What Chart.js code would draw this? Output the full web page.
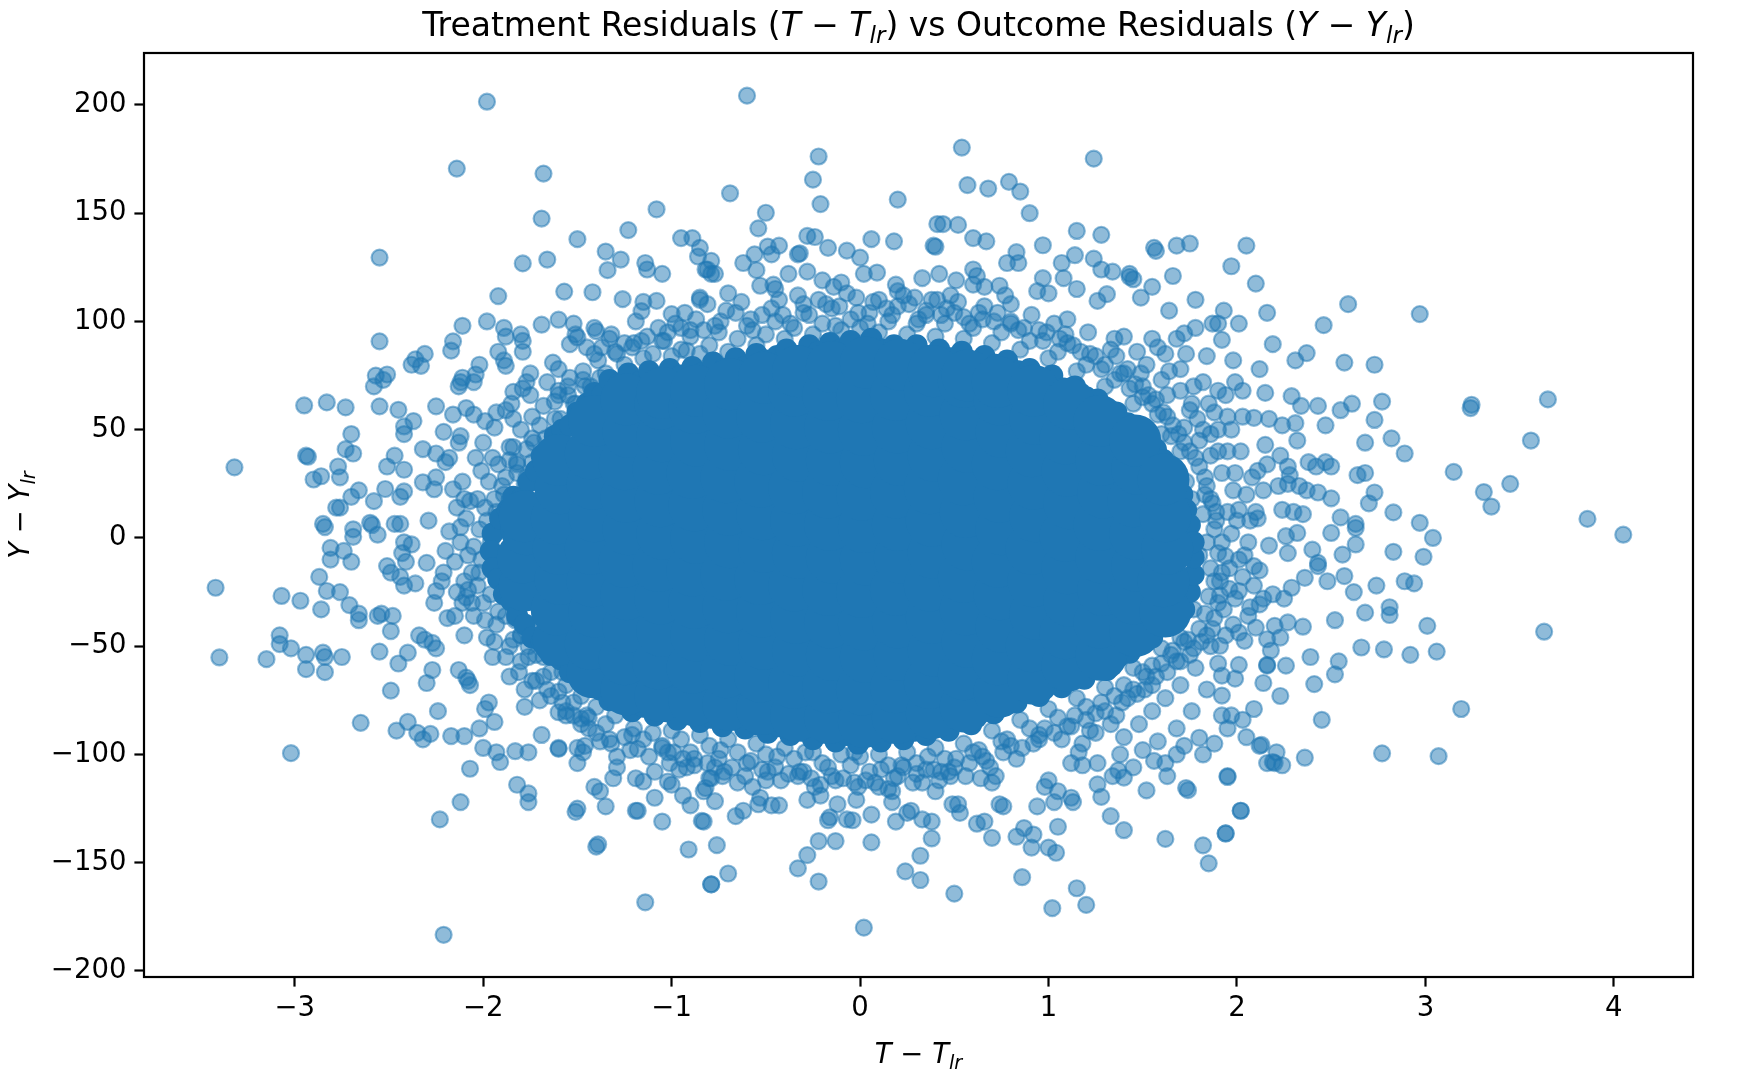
<!DOCTYPE html>
<html>
<head>
<meta charset="utf-8">
<script src="https://cdn.jsdelivr.net/npm/chart.js@4.4.1/dist/chart.umd.min.js"></script>
<style>
  html, body { margin: 0; padding: 0; background: #fff; }
  canvas { display: block; }
</style>
</head>
<body>
<canvas id="residuals" width="1754" height="1076" style="width:1754px;height:1076px"></canvas>
<script>
// axis ticks and limits
const xTickValues = [-3, -2, -1, 0, 1, 2, 3, 4];
const yTickValues = [-200, -150, -100, -50, 0, 50, 100, 150, 200];
const xLimits = [-3.80, 4.42];
const yLimits = [-202.8, 224];

// individually visible points around the cloud
const outlierPoints = [
  // upper left
  [-1.98,201.5],[-2.14,170.6],[-1.68,168.3],[-1.69,147.5],[-1.08,151.8],[-1.23,142.2],[-1.50,138],[-0.95,138.5],[-0.89,138.5],
  [-2.55,129.5],[-1.79,126.8],[-1.66,128.6],[-1.35,132.3],[-1.27,128.6],[-1.34,123.7],[-1.14,127],[-1.13,124],[-1.05,122],
  [-0.86,130],[-0.82,124],[-0.79,122],[-1.92,111.7],[-1.57,113.8],[-1.42,113.5],[-1.26,110.3],[-1.15,109],[-1.08,109.5],
  [-1.00,103.4],[-0.85,110],[-0.90,96],[-2.11,98],[-1.98,100],[-1.89,97],[-1.88,93],[-1.80,94],[-1.69,98.5],[-1.60,100.8],
  [-1.52,99],[-1.51,94],[-1.41,97],[-1.40,95.5],[-1.32,94],[-1.19,100],[-1.16,104.8],[-1.07,97],[-2.55,90.8],[-2.16,90.8],
  [-2.17,86.5],[-2.31,85],[-2.36,82.5],[-2.38,80],[-2.33,79.5],[-1.92,86],[-1.89,82],[-1.88,79.5],[-1.79,91],[-1.79,86],
  [-1.63,81],[-1.60,78],[-1.54,89.5],[-1.50,92.6],[-1.45,88],[-1.37,88],[-1.29,85],[-1.21,88],[-1.16,91],[-1.04,91],[-0.92,86.5],
  [-2.57,75],[-2.58,70],[-2.51,75.5],[-2.53,73],[-2.12,72],[-2.13,70],[-2.11,74],[-2.04,75.5],[-2.02,80],[-2.05,72],
  [-1.77,72],[-1.75,76],[-1.79,69],[-1.84,67.5],[-1.66,72],[-1.60,68],[-2.95,61.2],[-2.83,62.6],[-2.73,60.3],[-2.55,60.8],
  [-2.45,59.2],[-2.25,60.8],[-2.37,54],[-2.42,51.5],[-2.42,48],[-2.70,48],[-2.73,41],[-2.69,39],[-2.94,38],[-2.93,37.5],
  [-2.77,33],[-2.76,28],[-2.90,27],[-2.86,28.5],[-3.32,32.6],[-2.21,49],[-2.13,44],[-2.12,47],[-2.16,57],[-2.09,60],
  [-2.05,57],[-1.99,54],[-1.94,51],[-1.88,59],[-1.84,55],[-2.47,38],[-2.51,33],[-2.42,31.5],[-2.32,41],[-2.25,39],
  [-2.20,35],[-2.18,37],[-2.32,25.7],[-2.25,28],[-2.26,22.5],[-2.16,22.5],[-2.11,26],[-2.04,37],[-2.01,31],[-1.95,37],
  [-1.84,42],[-1.86,36],[-1.74,46],[-2.66,22],[-2.70,19],[-2.78,14],[-2.76,14],[-2.58,17],[-2.52,22.6],[-2.42,21.5],
  [-2.44,19],[-2.10,18],[-2.03,18],[-2.85,6.5],[-2.69,4],[-2.60,7],[-2.47,6.5],[-2.44,6.5],[-2.29,8],
  // lower left
  [-3.42,-23],[-3.40,-55.2],[-3.07,-26.8],[-2.97,-29],[-2.86,-33],[-2.84,5],[-2.69,0.5],[-2.81,-4.6],[-2.81,-10],[-2.74,-6],
  [-2.70,-11],[-2.87,-18],[-2.83,-24.5],[-2.76,-25],[-2.71,-31],[-2.66,-35],[-2.66,-38],[-2.59,6],[-2.56,1.5],[-2.42,-2],
  [-2.38,-3],[-2.43,-7],[-2.41,-11],[-2.51,-13],[-2.49,-16],[-2.44,-18],[-2.42,-22],[-2.36,-21],[-2.30,-11.5],[-2.56,-36],
  [-2.54,-35],[-2.48,-36],[-2.49,-43],[-2.34,-45],[-2.31,-47],[-2.27,-48.5],[-2.25,-51],[-2.26,-30],[-2.25,-24.5],[-2.21,-16],
  [-2.14,-25],[-2.09,-27.5],[-2.11,-30],[-2.19,-37],[-2.15,-36],[-3.08,-45],[-3.08,-49],[-3.02,-51],[-3.15,-56],[-2.94,-54],
  [-2.94,-60.6],[-2.85,-53],[-2.84,-55],[-2.84,-62],[-2.75,-55],[-2.55,-52.5],[-2.45,-58],[-2.40,-53],[-2.49,-70.5],[-2.65,-85.4],
  [-3.02,-99.4],[-2.46,-89],[-2.40,-85],[-2.35,-90],[-2.32,-93],[-2.28,-90.5],[-2.30,-67],[-2.27,-61],[-2.24,-80],[-2.17,-91.5],
  [-2.10,-91.5],[-2.13,-61],[-2.09,-64.5],[-2.07,-68],[-2.08,-66],[-2.02,-88],[-2.00,-97],[-1.94,-85],[-1.97,-76],[-1.99,-79],
  [-2.07,-106.6],[-2.12,-122],[-2.23,-130],[-2.21,-183.3],[-1.93,-99],[-1.91,-103.5],[-1.83,-98.5],[-1.76,-99],[-1.82,-114],
  [-1.76,-118],[-1.76,-122],[-1.60,-97.4],[-1.50,-125],[-1.51,-126.5],[-1.40,-142.6],[-1.39,-141.5],[-1.50,-104],[-1.47,-99],
  [-1.41,-115],[-1.38,-117],[-1.35,-124],[-1.29,-101],[-1.29,-106],[-1.31,-111],[-1.19,-126],[-1.18,-126],[-1.05,-131],
  [-1.09,-120],[-1.14,-168.3],[-0.91,-143.9],[-0.84,-130.7],[-0.79,-160],[-1.19,-111],[-1.15,-112.5],[-1.09,-108],[-1.02,-112.5],
  [-1.00,-114],[-0.94,-119],[-0.90,-123.5],[-0.83,-117],[-0.79,-111],[-1.69,-91],[-1.60,-97],[-1.78,-78],[-1.70,-75],[-1.78,-70],
  [-1.60,-80.5],[-1.56,-82],[-1.48,-83.5],[-1.45,-82],[-1.50,-97],[-1.46,-96],[-1.38,-94],[-1.33,-93],[-1.18,-97.4],[-1.21,-91],
  [-1.05,-96],[-0.99,-99],[-0.94,-102],[-0.88,-105],
  // upper middle
  [-0.60,204.3],[0.54,180.3],[1.24,175.2],[-0.22,176.2],[-0.25,165.5],[-0.21,154.2],[-0.69,159.2],[-0.50,150.2],[-0.54,143],
  [0.20,156.3],[0.57,163],[0.68,161.4],[0.79,164.5],[0.85,160],[0.90,150],[0.41,145],[0.44,145],[0.52,144.6],[0.39,135],
  [0.40,134.5],[0.60,138.5],[0.67,137],[1.15,141.8],[1.28,140],[0.97,135.2],[1.56,134],[1.57,132.6],[1.68,135],[1.75,136],
  [2.05,135],[1.97,125.5],[2.10,117.5],[1.66,121],[1.55,116],[1.49,111],[1.43,120.6],[1.78,110],[1.64,105],[1.93,105],
  [1.87,99],[2.01,99],[2.16,104],[1.78,97],[1.72,94.5],[1.92,91.5],[2.19,89.5],[1.98,82],[1.73,85],[2.12,78],[1.07,127],
  [1.14,130.6],[1.24,129],[1.28,124],[1.34,123],[1.43,122],[1.45,119.5],[0.83,132],[0.78,127],[0.84,127],[0.60,124],
  [0.62,121],[0.33,120],[0.42,122],[0.06,138],[0.18,137],[-0.33,131],[-0.32,131.5],[-0.28,139.5],[-0.24,139],[-0.49,134.6],
  [-0.43,135],[-0.47,131],[-0.56,131],[-0.62,127],[-0.55,123.7],[-0.17,134],[-0.07,132.7],[0.00,129.5],[0.02,122],[0.09,122.6],
  [0.19,117],[-0.38,122],[-0.46,117],[-0.53,116.5],[0.97,120],[1.08,120],[1.15,115],[0.94,114],[1.00,113],[1.26,109.5],
  [1.31,112.6],[0.29,111],[0.41,110],[0.51,119],[0.60,117],[0.66,116],[0.74,116.5],[-0.14,116],[-0.20,119],[-0.28,123],
  [-0.85,134],[-0.79,128],[-0.81,124],[-0.77,122],[-0.85,111],
  // lower middle
  [0.02,-180],[1.02,-171],[1.20,-169.5],[1.15,-161.8],[0.50,-164.3],[0.86,-156.7],[0.24,-154],[0.32,-158],[-0.22,-158.7],
  [-0.33,-152.6],[-0.28,-146.5],[-0.79,-160],[-0.70,-155],[-0.76,-141.9],[-0.22,-140],[-0.13,-140],[0.06,-140.6],[0.32,-146.8],
  [0.38,-138.8],[0.70,-138.5],[0.83,-138],[0.91,-143],[0.92,-137],[1.00,-143],[1.04,-145.4],[1.05,-133.4],[1.40,-135],
  [1.33,-128.5],[1.62,-139],[1.82,-142],[1.85,-150.3],[1.94,-136.5],[2.02,-126],[1.95,-110.4],[1.73,-115.5],[1.74,-116.5],
  [1.52,-116.6],[2.13,-95.6],[2.19,-103.5],[1.80,-92.3],[1.28,-119.6],[1.26,-113.8],[1.40,-110.7],[1.37,-107.4],[1.12,-120],
  [1.13,-122],[1.03,-122],[0.98,-115],[1.00,-112],[1.05,-117],[1.18,-105],[1.12,-104],[1.16,-99],[1.26,-104],[1.34,-110],
  [1.56,-103],[1.63,-110],[1.68,-100],[0.94,-124],[0.87,-134],[0.62,-132],[0.66,-131],[0.52,-123],[0.53,-127],[0.74,-123],
  [0.76,-124],[0.38,-131],[0.33,-130],[0.27,-126],[0.19,-131],[0.17,-122],[0.25,-127],[0.06,-127.8],[-0.03,-113],[-0.02,-121],
  [-0.04,-130.4],[-0.17,-130.4],[-0.16,-129],[-0.07,-130],[-0.12,-123],[-0.28,-121],[-0.21,-119],[-0.43,-123.5],[-0.47,-123.5],
  [-0.53,-120],[-0.54,-123],[-0.62,-126],[-0.66,-128.5],[-0.83,-131],[-0.77,-121.6],[-0.82,-115.5],[0.10,-115],[0.17,-117],
  [0.22,-105],[0.43,-108],[0.48,-110],[0.49,-123],[0.33,-113],[0.40,-117],[0.64,-111],[0.70,-113],[0.72,-110],[-0.65,-113],
  [-0.57,-115],[-0.49,-108],[-0.73,-110],[-0.77,-106],[-0.32,-108],[-0.26,-111],
  // right
  [1.90,99],[2.59,108],[2.97,103.4],[2.46,98.3],[2.31,82],[2.37,85.4],[2.57,81],[2.73,80],[1.99,72],[2.03,68],[1.90,68],
  [2.15,67],[2.29,65.5],[2.34,61],[2.43,61],[2.55,59],[2.61,62],[2.77,63],[3.24,60],[3.245,61.5],[3.65,64],[2.73,54.5],
  [2.47,52],[2.31,53],[2.32,45],[2.24,52],[2.17,55],[2.09,55.5],[2.03,56],[2.15,43],[2.68,44],[2.82,46],[2.89,39],[3.56,45],
  [3.15,30.5],[2.23,38],[2.27,33],[2.38,35],[2.42,33],[2.47,35],[2.50,33],[2.64,29],[2.68,30],[3.45,25],[3.31,21.2],[2.73,21],
  [2.70,16],[2.28,29],[2.22,24],[2.27,25],[2.33,24],[2.37,22],[2.43,21],[2.11,31],[2.16,34],[3.35,14.5],[2.50,18.3],[2.24,13],
  [2.30,12],[2.35,11],[2.55,9.5],[2.63,6.5],[2.83,11.8],[2.97,7],[3.86,8.8],[4.05,1.5],[2.01,13],[2.11,9],[3.04,0],
  [2.83,-6.4],[2.99,-8.7],[2.89,-20],[2.94,-21],[2.74,-22],[2.62,-25],[2.68,-34.5],[2.81,-32],[2.81,-35.6],[3.01,-40.6],
  [2.52,-38],[2.35,-41],[2.66,-50.6],[2.78,-51.5],[2.92,-54],[3.06,-52.5],[3.63,-43.3],[2.39,-55],[2.54,-57],[2.52,-63],
  [2.41,-67.5],[2.26,-59],[2.16,-59],[2.14,-67],[2.23,-73],[2.09,-79],[2.03,-84],[1.97,-82],[1.92,-82],[2.45,-84],[3.19,-79],
  [2.12,-96],[2.21,-99],[2.16,-104],[2.20,-104],[2.24,-105],[2.36,-101.5],[2.77,-99.5],[3.07,-100.8],[1.95,-110],[2.02,-126],
  [1.94,-136.5],[2.17,-3.5],[2.26,0.8],[2.27,-7],[2.32,2.3],[2.40,-5.4],[2.43,-11.5],[2.50,2.3],[2.56,-7.7],[2.63,-3],
  [2.63,4.6],[2.57,-17.6],[2.48,-20],[2.43,-13],[2.36,-18.4],[2.29,-23],[2.25,-28],[2.19,-26],[2.12,-30.7],[2.07,-32],
  [2.01,-24.5],[1.96,-23.5],[1.91,-26.5],[2.01,-10],[2.09,-13],[1.94,-8.4],[1.92,-16],[2.01,-43.7],[2.04,-47.5],[2.16,-46.8],
  [2.20,-40.6],[2.23,-46],[2.18,-52],[2.16,-58.6],[2.01,-58.6],[1.99,-65],[1.92,-63.6],[1.92,-72.8],[1.91,-49.8],[2.10,-41.4],
  [2.27,-39]
];

// crowded fringe just outside the saturated middle of the cloud
const beltPoints = [
  // top, hugging the solid edge
  [-1.93,12],[-1.89,20],[-1.86,18],[-1.82,30],[-1.78,25],[-1.74,35],[-1.71,33],[-1.67,46],[-1.63,48],[-1.59,55],[-1.55,66],
  [-1.51,62],[-1.47,73],[-1.43,70],[-1.39,82],[-1.35,76],[-1.30,86],[-1.25,80],[-1.20,90],[-1.15,83],[-1.10,85],[-1.05,91],
  [-1.00,84],[-0.95,87],[-0.90,93],[-0.85,85],[-0.80,89],[-0.75,95],[-0.70,86],[-0.65,92],[-0.60,98],[-0.55,89],[-0.50,94],
  [-0.45,100],[-0.40,92],[-0.35,97],[-0.30,104],[-0.25,94],[-0.20,99],[-0.15,106],[-0.10,96],[-0.05,101],[0.00,97],[0.05,104],
  [0.10,95],[0.15,100],[0.20,107],[0.25,94],[0.30,99],[0.35,103],[0.40,93],[0.45,99],[0.50,104],[0.55,92],[0.60,97],[0.65,101],
  [0.70,90],[0.75,95],[0.80,100],[0.85,87],[0.90,91],[0.95,96],[1.00,83],[1.05,86],[1.10,90],[1.15,77],[1.20,80],[1.25,84],
  [1.30,70],[1.35,73],[1.40,76],[1.45,62],[1.50,65],[1.55,62],[1.60,48],[1.65,47],[1.70,40],[1.73,26],[1.76,18],
  // top, further out
  [-1.90,24],[-1.82,34],[-1.77,41],[-1.70,52],[-1.62,63],[-1.55,70],[-1.47,77],[-1.41,85],[-1.33,92],[-1.25,90],[-1.13,93],
  [-1.02,95],[-0.95,97],[-0.83,96],[-0.74,100],[-0.66,104],[-0.58,101],[-0.47,106],[-0.41,103],[-0.30,108],[-0.22,110],
  [-0.11,107],[-0.02,111],[0.07,109],[0.14,106],[0.26,108],[0.35,105],[0.46,106],[0.55,102],[0.63,104],[0.71,100],[0.80,99],
  [0.87,97],[0.99,95],[1.06,92],[1.13,89],[1.22,85],[1.30,80],[1.38,76],[1.46,71],[1.53,66],[1.61,58],[1.66,52],[1.72,44],
  [1.78,37],[1.83,28],[1.86,18],[1.89,8],
  [-0.70,113],[-0.45,115],[-0.10,118],[0.20,114],[0.48,112],[0.80,108],[1.10,101],[1.35,92],[1.60,73],[1.82,50],[1.90,40],
  [1.52,80],[1.58,88],[1.64,77],[1.70,68],[1.76,62],[1.82,72],[1.88,58],[1.94,66],[1.68,92],[1.84,84],
  [1.36,84],[1.42,78],[1.50,70],[1.57,64],[1.63,56],[1.69,48],[1.75,40],[1.80,33],[1.55,92],[1.62,85],[1.70,78],[1.77,70],
  [1.85,62],[1.90,50],[1.95,56],[1.47,86],[1.40,93],
  [-0.98,99],[-0.93,104],[-0.87,101],[-0.81,108],[-0.77,98],[-0.71,105],[-0.63,109],[-0.57,96],[-0.52,103],[-0.43,110],
  [-0.37,99],[-0.33,112],[-0.27,103],[-0.18,108],[-0.13,98],[-0.07,113],[-0.01,104],[0.04,99],[0.10,110],[0.17,103],
  [0.23,112],[0.31,101],[0.38,110],[0.43,103],[0.52,109],[0.58,99],[0.66,107],[0.73,104],[0.77,112],[0.84,96],[0.91,103],
  [0.97,91],[1.03,99],[1.09,94],[1.17,86],[1.21,95],[1.28,78],[1.33,87],[1.43,69],[1.49,76],[1.58,57],[1.63,66],[1.72,51],
  [1.75,59],
  // bottom, hugging the solid edge
  [-1.96,-26],[-1.92,-34],[-1.88,-36],[-1.84,-47],[-1.80,-45],[-1.76,-55],[-1.72,-54],[-1.68,-64],[-1.64,-62],[-1.60,-71],
  [-1.56,-68],[-1.52,-76],[-1.48,-73],[-1.44,-83],[-1.40,-78],[-1.35,-86],[-1.30,-82],[-1.25,-92],[-1.20,-88],[-1.15,-93],
  [-1.10,-90],[-1.05,-97],[-1.00,-89],[-0.95,-93],[-0.90,-99],[-0.85,-91],[-0.80,-96],[-0.75,-102],[-0.70,-93],[-0.65,-99],
  [-0.60,-104],[-0.55,-95],[-0.50,-100],[-0.45,-106],[-0.40,-97],[-0.35,-102],[-0.30,-108],[-0.25,-99],[-0.20,-104],[-0.15,-110],
  [-0.10,-100],[-0.05,-105],[0.00,-101],[0.05,-108],[0.10,-100],[0.15,-105],[0.20,-110],[0.25,-99],[0.30,-104],[0.35,-107],
  [0.40,-97],[0.45,-102],[0.50,-106],[0.55,-95],[0.60,-99],[0.65,-101],[0.70,-89],[0.75,-94],[0.80,-96],[0.85,-84],[0.90,-88],
  [0.95,-91],[1.00,-79],[1.05,-83],[1.10,-87],[1.15,-74],[1.20,-78],[1.25,-81],[1.30,-69],[1.35,-73],[1.40,-68],[1.45,-60],
  [1.50,-62],[1.55,-59],[1.60,-51],[1.65,-54],[1.70,-46],[1.74,-47],[1.77,-33],
  // bottom, further out
  [-1.93,-40],[-1.86,-50],[-1.80,-57],[-1.72,-66],[-1.64,-73],[-1.56,-80],[-1.48,-86],[-1.40,-90],[-1.32,-95],[-1.22,-98],
  [-1.12,-101],[-1.01,-104],[-0.92,-106],[-0.81,-104],[-0.72,-108],[-0.61,-110],[-0.52,-107],[-0.42,-112],[-0.33,-110],
  [-0.21,-114],[-0.13,-112],[-0.01,-115],[0.08,-113],[0.18,-111],[0.30,-109],[0.39,-107],[0.47,-108],[0.58,-104],[0.67,-103],
  [0.76,-99],[0.86,-97],[0.95,-93],[1.03,-90],[1.12,-87],[1.20,-84],[1.30,-80],[1.39,-76],[1.47,-72],[1.55,-68],[1.63,-62],
  [1.70,-57],[1.77,-51],[1.84,-45],[1.88,-37],[1.90,-30],
  [1.45,-70],[1.52,-64],[1.60,-58],[1.66,-52],[1.72,-48],[1.80,-42],[1.86,-50],[1.78,-60],[1.70,-68],[1.62,-74],[1.55,-80],
  [1.48,-86],[1.40,-92],[1.33,-86],[1.25,-90],[1.18,-95],[1.90,-58],[1.84,-70],[1.76,-80],[1.68,-88],[1.58,-94],[1.50,-98],
  [1.95,-88],[2.05,-92],[1.88,-95],[1.82,-100],[1.72,-96],[1.62,-104],[1.45,-106],[1.38,-100],
  [-1.02,-99],[-0.96,-107],[-0.88,-102],[-0.80,-111],[-0.74,-98],[-0.68,-106],[-0.58,-103],[-0.50,-112],[-0.44,-101],
  [-0.38,-109],[-0.29,-99],[-0.24,-115],[-0.17,-106],[-0.09,-111],[-0.03,-99],[0.03,-112],[0.11,-107],[0.15,-116],[0.23,-106],
  [0.28,-113],[0.36,-101],[0.42,-112],[0.51,-102],[0.56,-110],[0.63,-98],[0.69,-106],[0.78,-93],[0.83,-102],[0.92,-95],
  [0.98,-88],[1.07,-93],[1.14,-82],[1.22,-89],[1.28,-76],[1.36,-82],[1.42,-74],[1.51,-70],[1.57,-64],[1.68,-57],[1.75,-54],
  [1.81,-48],[1.87,-42],
  // right and left ends
  [1.84,24],[1.87,16],[1.82,11],[1.88,4],[1.84,-2],[1.90,-7],[1.86,-14],[1.91,-20],[1.85,-27],[1.93,-33],[1.95,12],[1.97,2],
  [1.96,-14],[1.99,30],[1.95,40],[2.05,20],[2.06,-2],[2.03,-18],[1.98,-40],[2.07,8],[2.09,-22],
  [1.80,45],[1.86,38],[1.92,30],[1.98,22],[1.83,20],[1.89,12],[2.00,8],[2.04,-8],[1.92,-2],[1.80,-8],[1.88,-20],[1.99,-28],
  [2.06,-36],[1.94,-45],[1.83,-35],[2.10,12],[2.12,-15],[2.08,28],[2.02,40],[1.97,50],[1.79,55],[1.86,48],[2.14,-28],[2.14,22],
  [-2.02,4],[-2.05,-4],[-2.01,-10],[-2.06,-16],[-2.03,-22],[-2.09,9],[-2.12,-2],[-2.15,-11],[-2.10,-20],[-2.18,3],[-2.20,-6],
  [-1.99,14],[-2.07,17],[-2.00,-30],[-2.05,-36],[-1.98,-46],[-2.10,-45],[-2.14,14],[-2.22,-20],
  [-1.96,-2],[-1.92,-12],[-1.98,8],[-1.90,-22],[-1.94,18],[-1.88,28],[-1.86,-28],[-1.83,-38],[-1.80,-45],[-1.76,-50],
  [-1.72,-40],[-1.68,-55],[-1.64,-48],[-1.58,-62],[-1.52,-58],[-1.47,-66],[-1.82,35],[-1.77,28],[-1.73,44],[-1.68,38],
  [-1.62,55],[-1.57,49],[-1.52,62],[-1.46,70],[-1.38,74],
  [-1.97,26],[-1.92,34],[-1.86,42],[-1.80,50],[-1.74,56],[-1.68,61],[-1.60,66],[-1.54,74],[-2.02,-16],[-2.08,-24],
  [-2.06,-30],[-1.99,-38],[-1.94,-48],[-1.88,-55],[-1.81,-62],[-1.74,-66],[-1.66,-70],[-1.58,-76],[-1.52,-82],[-1.44,-88],
  [-2.12,5],[-2.08,-8],[-1.95,-55],[-1.86,-64],[-2.00,44],[-1.93,58],[-1.85,62],[-1.75,66]
];

// rim of the saturated region, where the overlap just reaches solid colour
const rimPoints = [
  [-1.95,2],[-1.91,9],[-1.87,13],[-1.84,19],[-1.79,19],[-1.76,26],[-1.72,31],[-1.69,38],[-1.65,40],[-1.62,47],[-1.58,50],
  [-1.54,52],[-1.50,58],[-1.45,62],[-1.41,67],[-1.37,66],[-1.33,73],[-1.28,71],[-1.23,76],[-1.17,72],[-1.12,77],[-1.06,74],
  [-1.01,78],[-0.95,75],[-0.89,79],[-0.84,76],[-0.78,81],[-0.72,78],[-0.66,83],[-0.61,79],[-0.55,85],[-0.50,82],[-0.44,84],
  [-0.39,87],[-0.33,84],[-0.27,89],[-0.22,86],[-0.16,90],[-0.10,87],[-0.05,91],[0.01,88],[0.06,92],[0.12,87],[0.18,89],
  [0.24,86],[0.30,89],[0.36,84],[0.42,87],[0.48,83],[0.54,86],[0.60,81],[0.66,84],[0.72,80],[0.78,82],[0.84,77],[0.90,78],
  [0.96,73],[1.02,75],[1.08,69],[1.14,70],[1.20,65],[1.26,64],[1.31,59],[1.36,58],[1.42,53],[1.47,50],[1.52,45],[1.57,41],
  [1.61,36],[1.65,31],[1.68,25],[1.71,20],[1.73,13],[1.75,6],
  [-1.96,-6],[-1.95,-14],[-1.92,-19],[-1.89,-26],[-1.85,-29],[-1.82,-36],[-1.78,-40],[-1.74,-46],[-1.69,-48],[-1.64,-54],
  [-1.59,-56],[-1.54,-62],[-1.49,-63],[-1.44,-68],[-1.38,-70],[-1.33,-75],[-1.27,-75],[-1.21,-80],[-1.15,-78],[-1.09,-82],
  [-1.03,-80],[-0.97,-84],[-0.91,-81],[-0.85,-85],[-0.79,-83],[-0.73,-87],[-0.67,-84],[-0.61,-88],[-0.55,-86],[-0.49,-90],
  [-0.43,-87],[-0.37,-91],[-0.31,-89],[-0.25,-93],[-0.19,-90],[-0.13,-94],[-0.07,-91],[-0.01,-95],[0.05,-91],[0.11,-94],
  [0.17,-90],[0.23,-93],[0.29,-89],[0.35,-91],[0.41,-87],[0.47,-89],[0.53,-84],[0.59,-86],[0.65,-80],[0.71,-81],[0.77,-75],
  [0.83,-76],[0.89,-71],[0.95,-73],[1.01,-67],[1.07,-69],[1.13,-64],[1.19,-65],[1.25,-60],[1.31,-61],[1.37,-55],[1.43,-53],
  [1.49,-47],[1.55,-46],[1.60,-40],[1.65,-37],[1.69,-31],[1.72,-33],[1.75,-25],[1.77,-17],[1.77,-9],[1.77,-2]
];

// the saturated middle, where thousands of markers overlap into solid colour
const corePoints = [
  [-1.78,-22],[-1.79,-9],[-1.77,4],[-1.78,10],
  [-1.60,-47],[-1.61,-33],[-1.59,-19],[-1.60,-5],[-1.61,9],[-1.59,23],[-1.60,36],
  [-1.42,-62],[-1.43,-49],[-1.41,-34],[-1.42,-20],[-1.43,-5],[-1.41,10],[-1.42,25],[-1.43,39],[-1.41,54],
  [-1.24,-70],[-1.25,-56],[-1.23,-41],[-1.24,-26],[-1.25,-11],[-1.23,4],[-1.24,19],[-1.25,34],[-1.23,49],[-1.24,64],
  [-1.06,-73],[-1.07,-58],[-1.05,-43],[-1.06,-28],[-1.07,-13],[-1.05,2],[-1.06,17],[-1.07,32],[-1.05,47],[-1.06,62],[-1.05,67],
  [-0.88,-75],[-0.89,-60],[-0.87,-45],[-0.88,-30],[-0.89,-15],[-0.87,0],[-0.88,15],[-0.89,30],[-0.87,45],[-0.88,60],[-0.87,68],
  [-0.70,-77],[-0.71,-62],[-0.69,-47],[-0.70,-32],[-0.71,-17],[-0.69,-2],[-0.70,13],[-0.71,28],[-0.69,43],[-0.70,58],[-0.69,71],
  [-0.52,-79],[-0.53,-64],[-0.51,-49],[-0.52,-34],[-0.53,-19],[-0.51,-4],[-0.52,11],[-0.53,26],[-0.51,41],[-0.52,56],[-0.51,74],
  [-0.34,-82],[-0.35,-67],[-0.33,-52],[-0.34,-37],[-0.35,-22],[-0.33,-7],[-0.34,8],[-0.35,23],[-0.33,38],[-0.34,53],[-0.35,68],[-0.33,77],
  [-0.16,-83],[-0.17,-69],[-0.15,-54],[-0.16,-39],[-0.17,-24],[-0.15,-9],[-0.16,6],[-0.17,21],[-0.15,36],[-0.16,51],[-0.17,66],[-0.15,79],
  [0.02,-85],[0.01,-70],[0.03,-55],[0.02,-40],[0.01,-25],[0.03,-10],[0.02,5],[0.01,20],[0.03,35],[0.02,50],[0.01,65],[0.03,81],
  [0.20,-83],[0.19,-69],[0.21,-54],[0.20,-39],[0.19,-24],[0.21,-9],[0.20,6],[0.19,21],[0.21,36],[0.20,51],[0.19,66],[0.21,80],
  [0.38,-81],[0.37,-67],[0.39,-52],[0.38,-37],[0.37,-22],[0.39,-7],[0.38,8],[0.37,23],[0.39,38],[0.38,53],[0.37,68],[0.39,77],
  [0.56,-78],[0.55,-63],[0.57,-48],[0.56,-33],[0.55,-18],[0.57,-3],[0.56,12],[0.55,27],[0.57,42],[0.56,57],[0.55,72],[0.57,75],
  [0.74,-71],[0.73,-56],[0.75,-41],[0.74,-26],[0.73,-11],[0.75,4],[0.74,19],[0.73,34],[0.75,49],[0.74,64],[0.73,72],
  [0.92,-65],[0.91,-50],[0.93,-35],[0.92,-20],[0.91,-5],[0.93,10],[0.92,25],[0.91,40],[0.93,55],[0.92,68],
  [1.10,-59],[1.09,-44],[1.11,-29],[1.10,-14],[1.09,1],[1.11,16],[1.10,31],[1.09,46],[1.11,62],
  [1.28,-54],[1.27,-39],[1.29,-24],[1.28,-9],[1.27,6],[1.29,21],[1.28,36],[1.27,54],
  [1.46,-43],[1.45,-28],[1.47,-13],[1.46,2],[1.45,17],[1.47,32],[1.46,45],
  [1.62,-34],[1.61,-20],[1.63,-5],[1.62,10],[1.61,27]
];

const MARKER_FILL = 'rgba(31, 119, 180, 0.5)';
const MARKER_SOLID = 'rgb(31, 119, 180)';
const TICK_FONT = { family: 'DejaVu Sans', size: 27.5 };

const toXY = (points) => points.map(([x, y]) => ({ x, y }));
const withMinus = (v) => (v < 0 ? '\u2212' + Math.abs(v) : String(v));

// draws a label where some parts are italic and some are subscripts (mathtext look)
function drawMathLabel(ctx, parts, x, y, size, rotated) {
  const fontFor = (p) =>
    `${p.italic ? 'italic ' : ''}${p.sub ? size * 0.7 : size}px "DejaVu Sans"`;
  let width = 0;
  parts.forEach((p) => {
    ctx.font = fontFor(p);
    width += ctx.measureText(p.text).width;
  });
  ctx.save();
  ctx.translate(x, y);
  if (rotated) ctx.rotate(-Math.PI / 2);
  ctx.fillStyle = '#000';
  ctx.textBaseline = 'alphabetic';
  ctx.textAlign = 'left';
  let cursor = -width / 2;
  parts.forEach((p) => {
    ctx.font = fontFor(p);
    ctx.fillText(p.text, cursor, p.sub ? size * 0.22 : 0);
    cursor += ctx.measureText(p.text).width;
  });
  ctx.restore();
}

const plain = (text) => ({ text });
const ital = (text) => ({ text, italic: true });
const sub = (text) => ({ text, italic: true, sub: true });

const titleParts = [
  plain('Treatment Residuals ('), ital('T'), plain(' \u2212 '), ital('T'), sub('lr'),
  plain(') vs Outcome Residuals ('), ital('Y'), plain(' \u2212 '), ital('Y'), sub('lr'), plain(')'),
];
const xLabelParts = [ital('T'), plain(' \u2212 '), ital('T'), sub('lr')];
const yLabelParts = [ital('Y'), plain(' \u2212 '), ital('Y'), sub('lr')];

const frameAndLabels = {
  id: 'frameAndLabels',
  afterDatasetsDraw(chart) {
    const { ctx, chartArea: a } = chart;
    ctx.save();
    ctx.strokeStyle = '#000';
    ctx.lineWidth = 2.2;
    ctx.strokeRect(a.left, a.top, a.right - a.left, a.bottom - a.top);
    ctx.restore();
  },
  afterDraw(chart) {
    const { ctx, chartArea: a } = chart;
    const midX = (a.left + a.right) / 2;
    const midY = (a.top + a.bottom) / 2;
    drawMathLabel(ctx, titleParts, midX, 36, 33, false);
    drawMathLabel(ctx, xLabelParts, midX, 1063, 27.5, false);
    drawMathLabel(ctx, yLabelParts, 29, midY, 27.5, true);
  },
};

const axisCommon = {
  type: 'linear',
  grid: {
    display: true,
    drawOnChartArea: false,
    drawTicks: true,
    tickLength: 9.6,
    tickWidth: 2.2,
    tickColor: '#000',
  },
  border: { display: false },
};

const solidSet = (label, points, radius) => ({
  label,
  data: toXY(points),
  pointRadius: radius,
  pointHoverRadius: radius,
  pointBorderWidth: 0,
  pointBackgroundColor: MARKER_SOLID,
  pointBorderColor: MARKER_SOLID,
});

const markerSet = (label, points) => ({
  label,
  data: toXY(points),
  pointRadius: 8,
  pointHoverRadius: 8,
  pointBorderWidth: 2.2,
  pointBackgroundColor: MARKER_FILL,
  pointBorderColor: MARKER_FILL,
});

const ctx = document.getElementById('residuals').getContext('2d');

new Chart(ctx, {
  type: 'scatter',
  data: {
    datasets: [
      solidSet('core', corePoints, 26),
      solidSet('rim', rimPoints, 11),
      markerSet('fringe', beltPoints),
      markerSet('outliers', outlierPoints),
    ],
  },
  options: {
    responsive: false,
    animation: false,
    devicePixelRatio: 1,
    events: [],
    layout: { padding: { top: 53, right: 61, left: 0, bottom: 0 } },
    plugins: {
      legend: { display: false },
      tooltip: { enabled: false },
      title: { display: false },
    },
    scales: {
      x: {
        ...axisCommon,
        min: xLimits[0],
        max: xLimits[1],
        afterBuildTicks: (scale) => {
          scale.ticks = xTickValues.map((value) => ({ value }));
        },
        afterFit: (scale) => {
          scale.height = 99;
        },
        ticks: {
          color: '#000',
          font: TICK_FONT,
          padding: 6,
          maxRotation: 0,
          autoSkip: false,
          callback: (v) => withMinus(v),
        },
      },
      y: {
        ...axisCommon,
        min: yLimits[0],
        max: yLimits[1],
        afterBuildTicks: (scale) => {
          scale.ticks = yTickValues.map((value) => ({ value }));
        },
        afterFit: (scale) => {
          scale.width = 144;
        },
        ticks: {
          color: '#000',
          font: TICK_FONT,
          padding: 8,
          autoSkip: false,
          callback: (v) => withMinus(v),
        },
      },
    },
  },
  plugins: [frameAndLabels],
});
</script>
</body>
</html>
